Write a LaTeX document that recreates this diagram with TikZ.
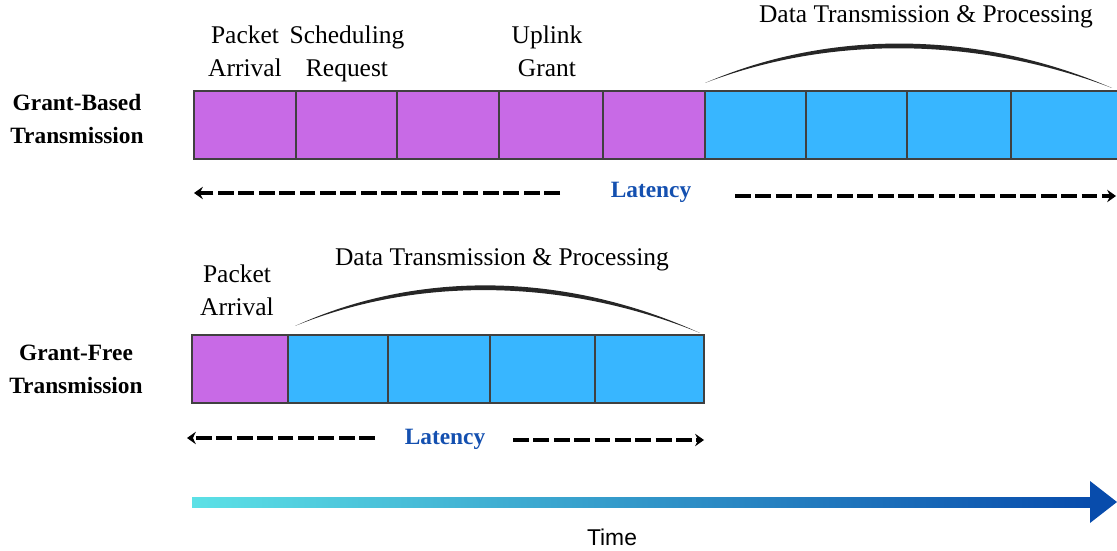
\documentclass[tikz,border=0pt]{standalone}
\usepackage{fontspec}
\setmainfont{Liberation Serif}
\setsansfont{Liberation Sans}
\usetikzlibrary{arrows.meta}

\definecolor{reqpurple}{RGB}{200,106,230}
\definecolor{datablue}{RGB}{56,182,255}
\definecolor{latblue}{RGB}{20,80,176}
\definecolor{timecyan}{RGB}{92,225,230}
\definecolor{timeblue}{RGB}{8,76,172}

\tikzset{
  cell/.style={draw=black!75, line width=0.6pt, inner sep=0pt, outer sep=0pt,
    minimum height=13.6mm, anchor=north west},
  req/.style={cell, fill=reqpurple},
  datacell/.style={cell, fill=datablue},
  lbl/.style={align=center, font=\fontsize{14.5}{18.7}\selectfont, inner sep=0pt},
  rowlbl/.style={align=center, font=\bfseries\fontsize{13.3}{18.7}\selectfont, inner sep=0pt},
  lat/.style={font=\bfseries\fontsize{13.3}{16}\selectfont, text=latblue, inner sep=0pt},
  latarr/.style={line width=1.9pt, dash pattern=on 9pt off 2.6pt,
    -{Stealth[length=5pt,width=7pt]}},
  arcshade/.style={fill=black!85},
}

\begin{document}
\begin{tikzpicture}[x=0.2mm,y=-0.2mm]
   \useasboundingbox (0,0) rectangle (1117,551);

   % grant-based row
   \foreach \a/\b [count=\i] in {194/296,296/397,397/499,499/603,603/705}
     \node[req, minimum width={(\b-\a)*0.2mm}] (gb\i) at (\a,91) {};
   \foreach \a/\b [count=\i from 6] in {705/806,806/907,907/1011,1011/1130}
     \node[datacell, minimum width={(\b-\a)*0.2mm}] (gb\i) at (\a,91) {};

   \node[rowlbl] (gblbl) at (77,119) {Grant-Based\\Transmission};
   \node[lbl] (gbarr) at (245,51) {Packet\\Arrival};
   \node[lbl] (gbsr) at (347,53.5) {Scheduling\\Request};
   \node[lbl] (gbul) at (547,51) {Uplink\\Grant};
   \node[lbl] (gbdt) at (926,17) {Data Transmission \& Processing};

   \coordinate (ga1) at (705,83);
   \coordinate (ga2) at (1112,88);
   \fill[arcshade] (ga1) .. controls (834.5,27.2) and (982.5,32.2) .. (ga2)
     .. controls (982.5,38.5) and (834.5,33.5) .. (ga1) -- cycle;

   \node[lat] (gblat) at (651,192) {Latency};
   \coordinate (gbL) at (560,193);
   \coordinate (gbR) at (735,196);
   \coordinate (gbE) at (1116,196);
   \draw[latarr] (gbL) -- (gbL -| gb1.west);
   \draw[latarr] (gbR) -- (gbE);

   % grant-free row
   \node[req, minimum width=19.2mm] (gf1) at (192,335) {};
   \foreach \a/\b [count=\i from 2] in {288/388,388/490,490/595,595/704}
     \node[datacell, minimum width={(\b-\a)*0.2mm}] (gf\i) at (\a,335) {};

   \node[rowlbl] (gflbl) at (76,369) {Grant-Free\\Transmission};
   \node[lbl] (gfarr) at (237,290) {Packet\\Arrival};
   \node[lbl] (gfdt) at (502,260) {Data Transmission \& Processing};

   \coordinate (gfa1) at (295,326);
   \coordinate (gfa2) at (700,333);
   \fill[arcshade] (gfa1) .. controls (423.7,267.4) and (571.3,274.4) .. (gfa2)
     .. controls (571.3,280.7) and (423.7,273.7) .. (gfa1) -- cycle;

   \node[lat] (gflat) at (445,439.5) {Latency};
   \coordinate (gfL) at (375,438);
   \coordinate (gfLe) at (187,438);
   \coordinate (gfR) at (513,440);
   \draw[latarr] (gfL) -- (gfLe);
   \draw[latarr] (gfR) -- (gfR -| gf5.east);

   % time axis
   \coordinate (t0) at (192,497);
   \coordinate (t1) at (1091,507);
   \shade[left color=timecyan, right color=timeblue] (t0) rectangle (t1);
   \fill[timeblue] (1090,481) -- (1117,502) -- (1090,523) -- cycle;
   \node[font=\sffamily\fontsize{13}{15}\selectfont, inner sep=0pt] (time) at (612,537) {Time};
\end{tikzpicture}
\end{document}
